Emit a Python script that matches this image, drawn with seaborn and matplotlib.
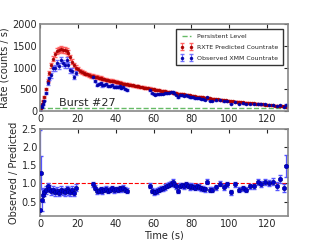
import numpy as np
import pandas as pd
import matplotlib
matplotlib.use("Agg")
import matplotlib.pyplot as plt
import seaborn as sns

# RXTE predicted count rate (counts / s)
pred_time = [0, 0.5, 1, 1.5] + list(range(2, 131))
pred_rate = [20, 80, 150, 230,
             320, 500, 700, 880, 1050, 1200, 1300, 1370, 1400, 1420,
             1410, 1400, 1390, 1340, 1230, 1130, 1060, 1000, 960, 930,
             900, 880, 860, 840, 825, 810, 800, 790, 780, 770,
             760, 745, 730, 720, 710, 700, 690, 680, 670, 660,
             650, 640, 630, 620, 612, 604, 596, 588, 580, 572,
             564, 556, 548, 540, 532, 524, 516, 508, 500, 492,
             485, 477, 470, 462, 455, 447, 440, 432, 425, 417,
             410, 402, 395, 387, 380, 372, 365, 357, 350, 344,
             338, 332, 326, 320, 314, 308, 302, 296, 290, 284,
             278, 272, 266, 260, 254, 248, 242, 236, 230, 226,
             221, 217, 213, 208, 204, 200, 195, 191, 187, 182,
             178, 174, 169, 165, 161, 156, 152, 148, 143, 139,
             135, 130, 126, 122, 117, 113, 109, 104, 100]
pred_err_frac = 0.05

# XMM observed / RXTE predicted ratio
obs_time = ([0, 0.5, 1, 1.5] + list(range(2, 20)) + list(range(28, 47))
            + list(range(58, 88))
            + [88, 90, 91, 93, 95, 97, 99, 101, 103, 105, 107, 109, 111,
               113, 115, 117, 119, 121, 123, 125, 127, 129, 130])
ratio = ([0.27, 1.30, 0.55, 0.68,
          0.75, 0.82, 0.92, 0.85, 0.78, 0.82, 0.76, 0.80, 0.74, 0.82,
          0.78, 0.75, 0.84, 0.79, 0.76, 0.82, 0.74, 0.88]
         + [0.98, 0.88, 0.78, 0.80, 0.84, 0.79, 0.82, 0.85, 0.80, 0.83,
            0.86, 0.81, 0.84, 0.82, 0.87, 0.84, 0.88, 0.83, 0.80]
         + [0.93, 0.80, 0.76, 0.77, 0.79, 0.82, 0.85, 0.87, 0.90, 0.93,
            0.96, 0.99, 1.05, 0.97, 0.92, 0.80, 0.93, 0.95, 0.92, 0.97,
            0.93, 0.90, 0.94, 0.91, 0.88, 0.92, 0.90, 0.87, 0.85, 0.84]
         + [1.05, 0.82, 0.82, 0.89, 0.99, 0.90, 0.98, 0.76, 0.98, 0.82,
            0.87, 0.83, 0.92, 0.92, 1.03, 0.98, 1.03, 1.00, 1.05, 0.93,
            1.12, 0.87, 1.48])
ratio_err = ([2.2, 0.45, 0.3, 0.2]
             + [0.1] * 18 + [0.07] * 19 + [0.07] * 30
             + [0.08, 0.07, 0.07, 0.07, 0.07, 0.07, 0.07, 0.07, 0.07, 0.07,
                0.07, 0.07, 0.07, 0.07, 0.08, 0.08, 0.08, 0.08, 0.09, 0.1,
                0.1, 0.1, 0.3])

persistent_level = 60
burst_label = "Burst #27"

pred = pd.DataFrame({"time": pred_time, "rate": pred_rate})
pred["err"] = pred["rate"] * pred_err_frac
obs = pd.DataFrame({"time": obs_time, "ratio": ratio, "ratio_err": ratio_err})
obs = obs.merge(pred[["time", "rate"]], on="time", how="left")
obs["obs_rate"] = obs["ratio"] * obs["rate"]
obs["obs_err"] = obs["ratio_err"] * obs["rate"] * 0.5

sns.set_style("white")
plt.rcParams.update({
    "font.family": ["DejaVu Sans"],
    "font.size": 7,
    "xtick.direction": "in",
    "ytick.direction": "in",
    "xtick.top": True,
    "ytick.right": True,
    "xtick.major.size": 3,
    "ytick.major.size": 3,
    "xtick.major.pad": 2,
    "ytick.major.pad": 2,
    "axes.edgecolor": "#888888",
    "axes.linewidth": 1.2,
})

fig = plt.figure(figsize=(3.2, 2.4), dpi=100)
ax1 = fig.add_axes([0.125, 0.5375, 0.775, 0.3625])
ax2 = fig.add_axes([0.125, 0.10, 0.775, 0.3625])

sns.lineplot(x=[0, 131], y=[persistent_level, persistent_level], ax=ax1,
             color="#66bb66", linestyle="--", linewidth=1.0,
             label="Persistent Level")
ax1.errorbar(pred["time"], pred["rate"], yerr=pred["err"], fmt=".",
             color="#aa0000", ecolor="#ff5555", elinewidth=0.8, capsize=1.2,
             markersize=3, alpha=0.9, label="RXTE Predicted Countrate")
ax1.errorbar(obs["time"], obs["obs_rate"], yerr=obs["obs_err"], fmt=".",
             color="#0000aa", ecolor="#6666ff", elinewidth=0.8, capsize=1.2,
             markersize=3, alpha=0.9, label="Observed XMM Countrate")
ax1.text(10, 110, burst_label, fontsize=8)
ax1.set_xlim(0, 131)
ax1.set_ylim(0, 2000)
ax1.set_yticks([0, 500, 1000, 1500, 2000])
ax1.set_xticks(range(0, 121, 20))
ax1.set_ylabel("Rate (counts / s)", labelpad=2)
ax1.legend(loc="upper right", fontsize=4.5, frameon=True, fancybox=False,
           edgecolor="black", borderpad=0.7, labelspacing=0.9,
           handlelength=2.0, numpoints=2, borderaxespad=0.8)

sns.lineplot(x=[0, 131], y=[1.0, 1.0], ax=ax2, color="red",
             linestyle="--", linewidth=0.8)
ax2.errorbar(obs["time"], obs["ratio"], yerr=obs["ratio_err"], fmt="none",
             ecolor="#5555ff", elinewidth=0.9, capsize=1.5)
sns.scatterplot(x=obs["time"], y=obs["ratio"], ax=ax2, color="#0000cc",
                edgecolor="#000088", linewidth=0.4, s=10, zorder=3)
ax2.set_xlim(0, 131)
ax2.set_ylim(0.1, 2.5)
ax2.set_yticks([0.5, 1.0, 1.5, 2.0, 2.5])
ax2.set_xticks(range(0, 121, 20))
ax2.set_xlabel("Time (s)", labelpad=1)
ax2.set_ylabel("Observed / Predicted", labelpad=2)

fig.savefig("out.png", dpi=100)
